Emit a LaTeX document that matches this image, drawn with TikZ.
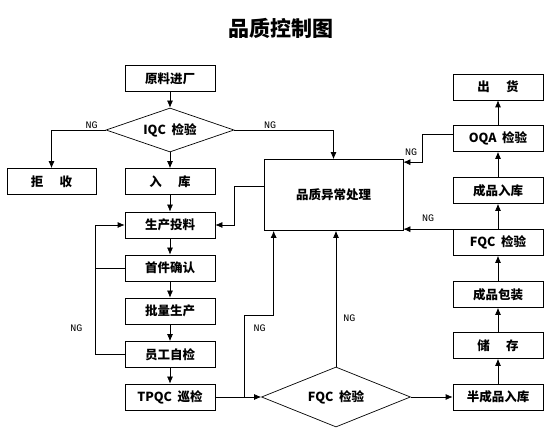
\documentclass[tikz,border=0pt]{standalone}
\usepackage{fontspec}
\newfontfamily\cjk{Noto Sans CJK SC}
\newfontfamily\ngfont{Liberation Mono}
\usetikzlibrary{arrows.meta,shapes.geometric,positioning}

\begin{document}
\begin{tikzpicture}[x=1pt, y=-1pt, line width=0.7pt, >={Latex[length=7pt,width=6pt]},
    box/.style={draw, rectangle, minimum width=90pt, minimum height=26pt, inner sep=1pt,
                font=\cjk\bfseries\fontsize{12.5}{14}\selectfont},
    chk/.style={draw, diamond, aspect=2.9, inner sep=0pt,
                font=\cjk\bfseries\fontsize{12.5}{14}\selectfont},
    ng/.style={font=\ngfont\fontsize{10}{12}\selectfont, inner sep=1pt}]
   \useasboundingbox (0,0) rectangle (550,430);

   \node[font=\cjk\bfseries\fontsize{21}{24}\selectfont] (title) at (281,28) {品质控制图};

   %left column
   \node[box] (yljc) at (170,78.5) {原料进厂};
   \node[chk, minimum width=128pt, minimum height=44pt] (iqc) at (170,130) {IQC\ \ 检验};
   \node[box, minimum width=89pt] (jush) at (51.5,181.5) {拒\hspace{1.3em}收};
   \node[box] (ruku) at (170,181.5) {入\hspace{1.3em}库};
   \node[box] (sctl) at (170,225) {生产投料};
   \node[box] (sjqr) at (170,268) {首件确认};
   \node[box] (plsc) at (170,311) {批量生产};
   \node[box] (ygzj) at (170,354.5) {员工自检};
   \node[box] (tpqc) at (170,397) {TPQC\ \ 巡检};

   %middle
   \node[box, minimum width=139pt, minimum height=71pt] (exc) at (333.5,195) {品质异常处理};
   \node[chk, minimum width=149pt, minimum height=60pt] (fqcd) at (336,397) {FQC\ \ 检验};

   %right column
   \node[box] (chuh) at (498,87) {出\hspace{1.3em}货};
   \node[box] (oqa)  at (498,138.5) {OQA\ \ 检验};
   \node[box] (cprk) at (498,190.5) {成品入库};
   \node[box] (fqcb) at (498,242.5) {FQC\ \ 检验};
   \node[box] (cpbz) at (498,294.5) {成品包装};
   \node[box] (chcu) at (498,345.5) {储\hspace{1.3em}存};
   \node[box] (bcrk) at (498,397) {半成品入库};

  \path[->]
    (yljc) edge (iqc)
    (iqc)  edge (ruku)
    (ruku) edge (sctl)
    (sctl) edge (sjqr)
    (sjqr) edge (plsc)
    (plsc) edge (ygzj)
    (ygzj) edge (tpqc)
    (tpqc) edge (fqcd)
    (fqcd) edge (bcrk)

    %right column goes up
    (bcrk) edge (chcu)
    (chcu) edge (cpbz)
    (cpbz) edge (fqcb)
    (fqcb) edge (cprk)
    (cprk) edge (oqa)
    (oqa)  edge (chuh);

   %NG from IQC
   \draw[->] (iqc.west) -| node[ng, above, pos=0.13] {NG} (jush.north);
   \draw[->] (iqc.east) -| node[ng, above, pos=0.18] {NG} (exc.north);

   %rework loop on the left
   \draw (sjqr.west) -- ++(-29,0);
   \draw[->] (ygzj.west) -- ++(-29,0) |- node[ng, left=12pt, pos=0.1] {NG} (sctl.west);

   %back from abnormal handling
   \draw[->] ([yshift=9pt]exc.west) -- ++(-29,0) |- (sctl.east);

   %NG from TPQC and FQC
   \draw[->] ([xshift=29pt]tpqc.east) -- ++(0,-82)
      node[ng, below right=8pt and 8pt] {NG} -| ([xshift=10pt]exc.south west);
   \draw[->] (fqcd.north) -- node[ng, right=6pt, pos=0.36] {NG} (fqcd.north |- exc.south);
   \draw[->] (fqcb.north west) -- node[ng, above=6pt] {NG} (fqcb.north west -| exc.east);
   \draw[->] ([yshift=4pt]oqa.west) -- ++(-30,0) |- node[ng, above=5pt, pos=0.8] {NG} ([yshift=-3pt]exc.north east);
\end{tikzpicture}
\end{document}
